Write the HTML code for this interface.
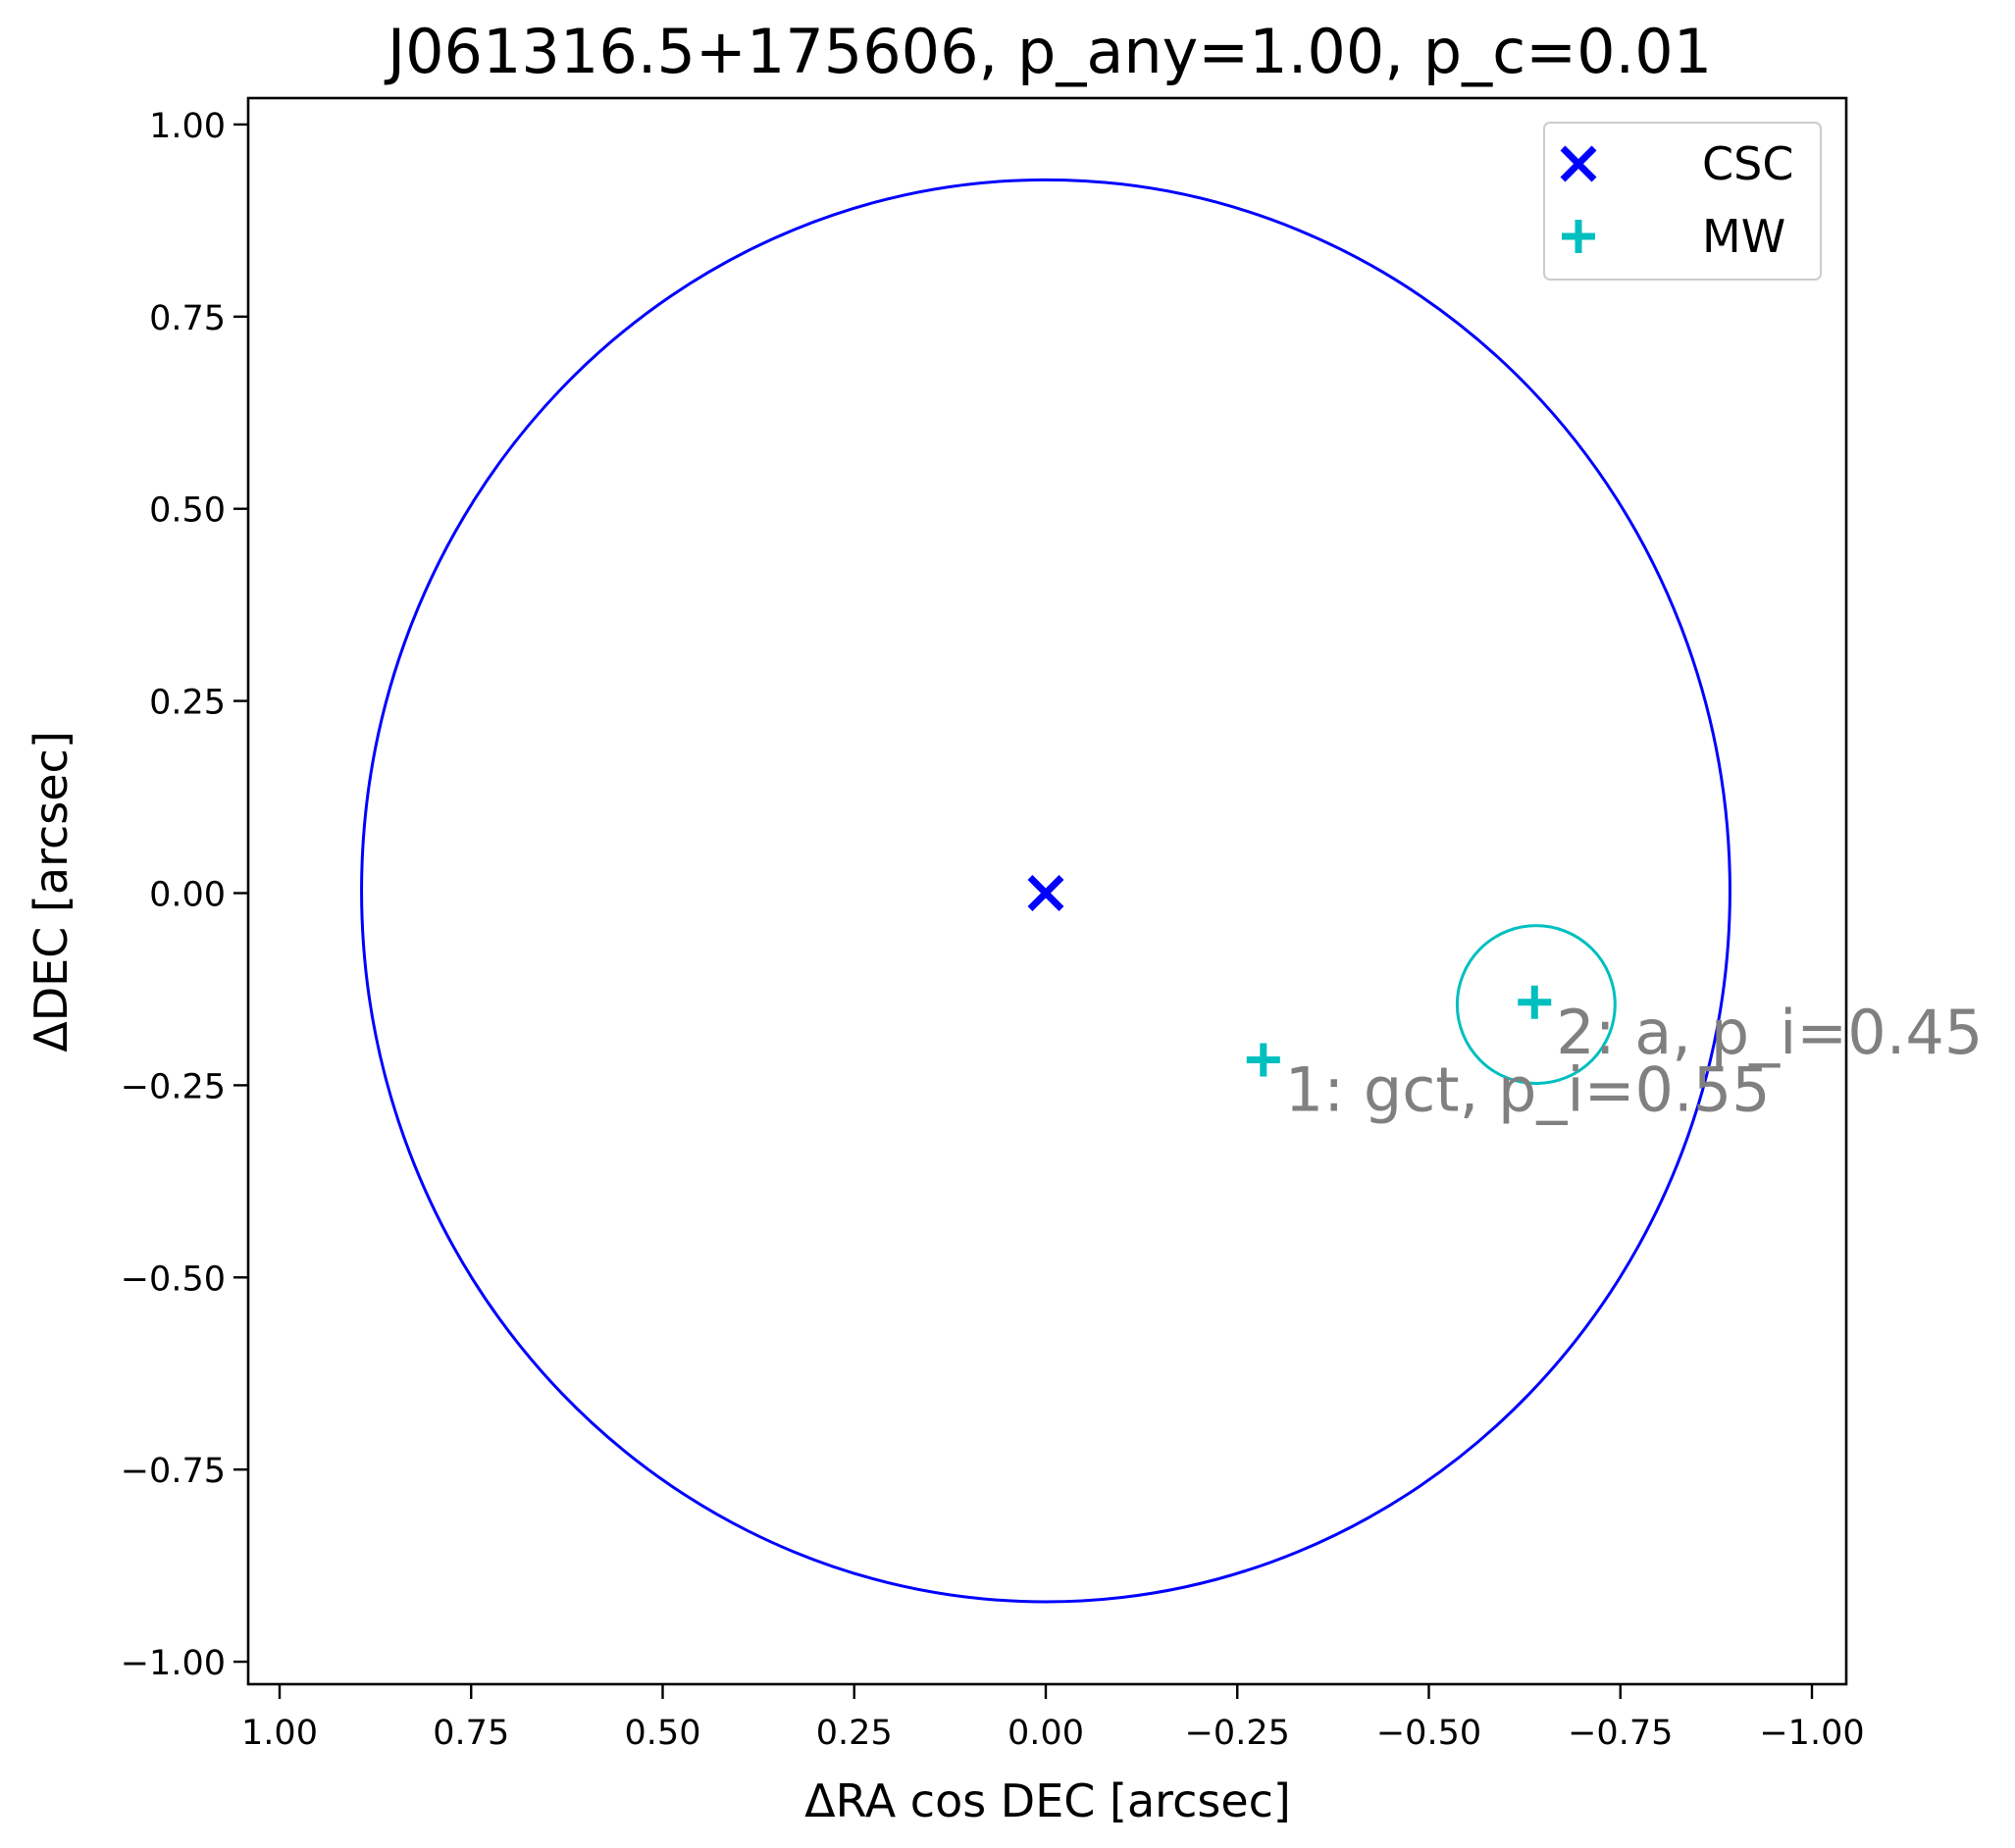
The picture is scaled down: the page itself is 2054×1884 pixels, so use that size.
<!DOCTYPE html>
<html><head><meta charset="utf-8"><style>
html,body{margin:0;padding:0;background:#fff}
svg{display:block;font-family:"DejaVu Sans","Liberation Sans",sans-serif}
</style></head><body>
<svg id="chart" width="2054" height="1884" viewBox="0 0 2054 1884" xmlns="http://www.w3.org/2000/svg">
<rect width="2054" height="1884" fill="#fff"/>
<text x="1070" y="74" font-size="62" text-anchor="middle">J061316.5+175606, p_any=1.00, p_c=0.01</text>
<g id="plot"></g>
<rect x="253" y="100" width="1629" height="1617" fill="none" stroke="#000" stroke-width="2.6"/>
<text x="1068" y="1852" font-size="46" text-anchor="middle">ΔRA cos DEC [arcsec]</text>
<text transform="translate(68,909) rotate(-90)" font-size="46" text-anchor="middle">ΔDEC [arcsec]</text>
<g>
<rect x="1574" y="125" width="282" height="160" rx="6" fill="#fff" stroke="#ccc" stroke-width="2"/>
<g>
<path d="M1593,151 L1625,183 M1625,151 L1593,183" stroke="#0000ff" stroke-width="7"/>
<text x="1735" y="183" font-size="46">CSC</text></g>
<g>
<path d="M1609,224 L1609,258 M1592,241 L1626,241" stroke="#00bfbf" stroke-width="7"/>
<text x="1735" y="257" font-size="46">MW</text></g>
</g>
</svg>
<script>
const xTicks=[1.00,0.75,0.50,0.25,0.00,-0.25,-0.50,-0.75,-1.00];
const yTicks=[1.00,0.75,0.50,0.25,0.00,-0.25,-0.50,-0.75,-1.00];
const cscPos=[0,0];
const errEllipse=[0.0,0.003,0.893,0.925];
const mwX=[-0.284,-0.638];
const mwY=[-0.217,-0.142];
const mwLabels=["1: gct, p_i=0.55","2: a, p_i=0.45"];
const mwCircle=[-0.64,-0.145,0.103];

const NS="http://www.w3.org/2000/svg";
const sx=v=>1066-v*781;
const sy=v=>910.5-v*783.6;
const plot=document.getElementById('plot');
const svg=document.getElementById('chart');
function mk(tag,attrs,parent){const e=document.createElementNS(NS,tag);for(const k in attrs)e.setAttribute(k,attrs[k]);(parent||plot).appendChild(e);return e;}
const fmt=v=>(v<0?"\u2212":"")+Math.abs(v).toFixed(2);
xTicks.forEach(v=>{
 const t=mk('line',{x1:sx(v),x2:sx(v),y1:1717,y2:1732,stroke:'#000','stroke-width':2.4},svg);
 
 
 const l=mk('text',{x:sx(v),y:1778,'font-size':35,'text-anchor':'middle'},svg);
 l.textContent=fmt(v);
 
 
});
yTicks.forEach(v=>{
 const t=mk('line',{x1:238,x2:253,y1:sy(v),y2:sy(v),stroke:'#000','stroke-width':2.4},svg);
 
 
 const l=mk('text',{x:230,y:sy(v)+13,'font-size':35,'text-anchor':'end'},svg);
 l.textContent=fmt(v);
 
 
});
const e=mk('ellipse',{cx:sx(errEllipse[0]),cy:sy(errEllipse[1]),rx:errEllipse[2]*781,ry:errEllipse[3]*783.6,fill:'none',stroke:'#0000ff','stroke-width':3});


const c=mk('circle',{cx:sx(mwCircle[0]),cy:sy(mwCircle[1]),r:mwCircle[2]*781,fill:'none',stroke:'#00bfbf','stroke-width':3});


const cx=sx(cscPos[0]),cy=sy(cscPos[1]);
const m=mk('path',{d:`M${cx-16},${cy-16} L${cx+16},${cy+16} M${cx+16},${cy-16} L${cx-16},${cy+16}`,stroke:'#0000ff','stroke-width':7});


mwX.forEach((v,i)=>{
 const px=sx(v),py=sy(mwY[i]);
 const p=mk('path',{d:`M${px},${py-17} L${px},${py+17} M${px-17},${py} L${px+17},${py}`,stroke:'#00bfbf','stroke-width':7});
 
 
 const t=mk('text',{x:px+22,y:py+52,'font-size':62,fill:'#808080'});
 t.textContent=mwLabels[i];
 
 
});
</script>
</body></html>
